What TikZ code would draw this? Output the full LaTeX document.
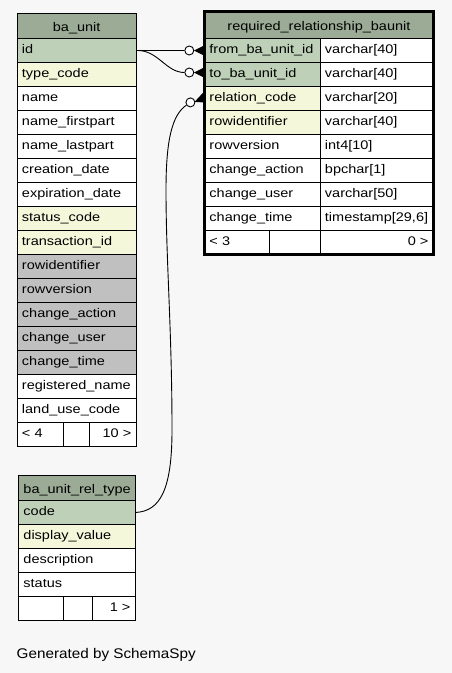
\documentclass[tikz,border=0pt]{standalone}
\usepackage{fontspec}
\setmainfont[FakeStretch=1.16]{Liberation Sans}
\newfontfamily\footfont[FakeStretch=1.09]{Liberation Sans}
\definecolor{bgc}{HTML}{F7F7F7}
\definecolor{hdrc}{HTML}{9BAB96}
\definecolor{pkc}{HTML}{BED1B8}
\definecolor{idxc}{HTML}{F4F7DA}
\definecolor{exc}{HTML}{C0C0C0}
\tikzset{
  cell/.style={draw=black, line width=0.9pt, anchor=north west, minimum height=24pt,
    inner xsep=5pt, inner ysep=0pt, text height=10pt, text depth=3pt, align=left,
    font=\fontsize{12.5}{14}\selectfont},
  hcell/.style={cell, fill=hdrc, minimum height=25pt, align=center, text height=12pt, text depth=1pt},
  rcell/.style={cell, align=right},
  conn/.style={draw=black, line width=0.9pt},
  odot/.style={circle, draw=black, fill=white, line width=0.9pt, minimum size=9pt, inner sep=0pt},
  thickframe/.style={draw=black, line width=3pt}
}
% name, x, y(top), text width, fill, text
\newcommand\fld[6]{\node[cell, fill=#5, text width=#4] (#1) at (#2,#3) {#6};}
\begin{document}
\begin{tikzpicture}[x=1pt,y=-1pt]
\fill[bgc] (0,0) rectangle (452,673);
\useasboundingbox (0,0) rectangle (452,673);

% ---------- ba_unit ----------
\node[hcell, text width=109.5pt] (bu-h) at (16.5,13) {ba\_unit};
\fld{bu-id}{16.5}{38}{109.5pt}{pkc}{id}
\fld{bu-type}{16.5}{62}{109.5pt}{idxc}{type\_code}
\fld{bu-name}{16.5}{86}{109.5pt}{white}{name}
\fld{bu-nfp}{16.5}{110}{109.5pt}{white}{name\_firstpart}
\fld{bu-nlp}{16.5}{134}{109.5pt}{white}{name\_lastpart}
\fld{bu-cd}{16.5}{158}{109.5pt}{white}{creation\_date}
\fld{bu-ed}{16.5}{182}{109.5pt}{white}{expiration\_date}
\fld{bu-sc}{16.5}{206}{109.5pt}{idxc}{status\_code}
\fld{bu-tid}{16.5}{230}{109.5pt}{idxc}{transaction\_id}
\fld{bu-rid}{16.5}{254}{109.5pt}{exc}{rowidentifier}
\fld{bu-rv}{16.5}{278}{109.5pt}{exc}{rowversion}
\fld{bu-ca}{16.5}{302}{109.5pt}{exc}{change\_action}
\fld{bu-cu}{16.5}{326}{109.5pt}{exc}{change\_user}
\fld{bu-ct}{16.5}{350}{109.5pt}{exc}{change\_time}
\fld{bu-rn}{16.5}{374}{109.5pt}{white}{registered\_name}
\fld{bu-luc}{16.5}{398}{109.5pt}{white}{land\_use\_code}
\fld{bu-f1}{16.5}{422}{36.5pt}{white}{< 4}
\fld{bu-f2}{63}{422}{16pt}{white}{}
\node[rcell, fill=white, text width=37pt] (bu-f3) at (89,422) {10 >};

% ---------- ba_unit_rel_type ----------
\node[hcell, text width=107pt] (rt-h) at (18,475) {ba\_unit\_rel\_type};
\fld{rt-code}{18}{500}{107pt}{pkc}{code}
\fld{rt-dv}{18}{524}{107pt}{idxc}{display\_value}
\fld{rt-desc}{18}{548}{107pt}{white}{description}
\fld{rt-st}{18}{572}{107pt}{white}{status}
\fld{rt-f1}{18}{596}{35pt}{white}{}
\fld{rt-f2}{63}{596}{19pt}{white}{}
\node[rcell, fill=white, text width=33pt] (rt-f3) at (92,596) {1 >};

% ---------- connectors ----------
\node[odot] (o1) at (189.3,50.5) {};
\node[odot] (o2) at (189.3,72.5) {};
\node[odot] (o3) at (190.4,102.4) {};
\draw[conn] (bu-id.east) -- (o1);
\draw[conn] (bu-id.east) .. controls (158,50) and (166,72.5) .. (o2);
\draw[conn] (rt-code.east) .. controls (160,511) and (172,490) .. (172,430)
  .. controls (172,330) and (166,260) .. (166,190)
  .. controls (166,140) and (172,115) .. (o3);
\fill[black] (194,50.5) -- (204,45.5) -- (204,55.5) -- cycle;
\fill[black] (194,72.5) -- (204,67.5) -- (204,77.5) -- cycle;
\fill[black] (194.6,101.8) -- (203,92.8) -- (204,102.5) -- cycle;

% ---------- required_relationship_baunit ----------
\node[hcell, minimum height=26.3pt, text width=219pt] (rr-h) at (204,11.7) {required\_relationship\_baunit};
\fld{rr-from}{204}{38}{105.5pt}{pkc}{from\_ba\_unit\_id}
\fld{rr-fromt}{319.5}{38}{103.5pt}{white}{varchar[40]}
\fld{rr-to}{204}{62}{105.5pt}{pkc}{to\_ba\_unit\_id}
\fld{rr-tot}{319.5}{62}{103.5pt}{white}{varchar[40]}
\fld{rr-rel}{204}{86}{105.5pt}{idxc}{relation\_code}
\fld{rr-relt}{319.5}{86}{103.5pt}{white}{varchar[20]}
\fld{rr-rid}{204}{110}{105.5pt}{idxc}{rowidentifier}
\fld{rr-ridt}{319.5}{110}{103.5pt}{white}{varchar[40]}
\fld{rr-rv}{204}{134}{105.5pt}{white}{rowversion}
\fld{rr-rvt}{319.5}{134}{103.5pt}{white}{int4[10]}
\fld{rr-ca}{204}{158}{105.5pt}{white}{change\_action}
\fld{rr-cat}{319.5}{158}{103.5pt}{white}{bpchar[1]}
\fld{rr-cu}{204}{182}{105.5pt}{white}{change\_user}
\fld{rr-cut}{319.5}{182}{103.5pt}{white}{varchar[50]}
\fld{rr-ct}{204}{206}{105.5pt}{white}{change\_time}
\fld{rr-ctt}{319.5}{206}{103.5pt}{white}{timestamp[29,6]}
\fld{rr-f1}{204}{230}{55pt}{white}{< 3}
\fld{rr-f2}{269}{230}{40.5pt}{white}{}
\node[rcell, fill=white, text width=103.5pt] (rr-f3) at (319.5,230) {0 >};
\draw[thickframe] (rr-h.north west) rectangle (rr-f3.south east);

% ---------- footer ----------
\node[anchor=base west, inner sep=0pt, font=\footfont\fontsize{14}{16}\selectfont] (gen) at (16.5,658) {Generated by SchemaSpy};
\end{tikzpicture}
\end{document}
